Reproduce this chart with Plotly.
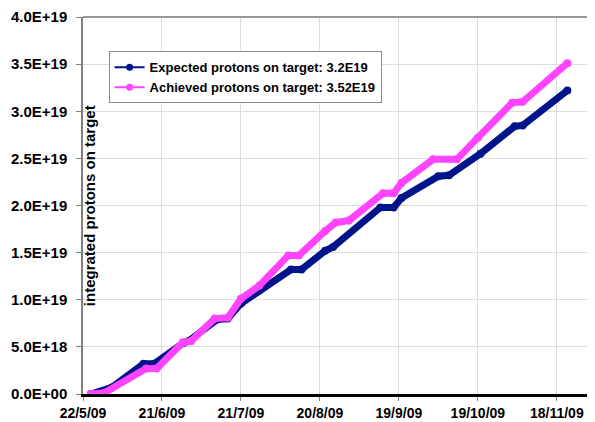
import plotly.graph_objects as go

# cumulative protons on target (units of 1E19), read at the kinks of each curve
expected_dates = ["2009-05-25", "2009-06-02", "2009-06-14", "2009-06-18", "2009-06-29",
                  "2009-07-01", "2009-07-12", "2009-07-16", "2009-07-21", "2009-07-28",
                  "2009-08-09", "2009-08-13", "2009-08-22", "2009-08-25", "2009-09-12",
                  "2009-09-17", "2009-09-20", "2009-10-04", "2009-10-08", "2009-10-20",
                  "2009-11-02", "2009-11-05", "2009-11-22"]
expected_pot = [0.0, 0.07, 0.32, 0.32, 0.54,
                0.56, 0.79, 0.80, 0.96, 1.10,
                1.32, 1.32, 1.52, 1.56, 1.98,
                1.98, 2.08, 2.31, 2.32, 2.55,
                2.84, 2.85, 3.22]

achieved_dates = ["2009-05-25", "2009-05-30", "2009-06-15", "2009-06-19", "2009-06-29",
                  "2009-07-02", "2009-07-11", "2009-07-16", "2009-07-21", "2009-07-28",
                  "2009-08-08", "2009-08-12", "2009-08-22", "2009-08-26", "2009-08-31",
                  "2009-09-13", "2009-09-17", "2009-09-20", "2009-10-02", "2009-10-11",
                  "2009-10-19", "2009-11-01", "2009-11-05", "2009-11-22"]
achieved_pot = [0.0, 0.01, 0.27, 0.27, 0.55,
                0.56, 0.80, 0.81, 1.01, 1.15,
                1.47, 1.47, 1.73, 1.82, 1.84,
                2.13, 2.13, 2.24, 2.49, 2.49,
                2.72, 3.09, 3.10, 3.51]

series_names = ["Expected protons on target: 3.2E19", "Achieved protons on target: 3.52E19"]
series_colors = ["#00148C", "#FF44FF"]

x_tick_dates = ["2009-05-22", "2009-06-21", "2009-07-21", "2009-08-20",
                "2009-09-19", "2009-10-19", "2009-11-18"]
x_tick_labels = ["22/5/09", "21/6/09", "21/7/09", "20/8/09", "19/9/09", "19/10/09", "18/11/09"]
y_tick_vals = [0, 0.5, 1.0, 1.5, 2.0, 2.5, 3.0, 3.5, 4.0]
y_tick_labels = ["0.0E+00", "5.0E+18", "1.0E+19", "1.5E+19", "2.0E+19",
                 "2.5E+19", "3.0E+19", "3.5E+19", "4.0E+19"]

FONT = "Liberation Sans, Arial"
xtick_font = dict(family=FONT, size=14, color="black", weight="bold")
ytick_font = dict(family=FONT, size=15, color="black", weight="bold")
title_font = dict(family=FONT, size=15, color="black", weight="bold")

fig = go.Figure()
for xs, vals, name, col in [(expected_dates, expected_pot, series_names[0], series_colors[0]),
                            (achieved_dates, achieved_pot, series_names[1], series_colors[1])]:
    fig.add_trace(go.Scatter(
        x=xs, y=[v * 1e19 for v in vals], mode="lines+markers", name=name,
        line=dict(color=col, width=7), marker=dict(color=col, size=8),
        showlegend=False
    ))
# thin legend entries like the excel legend keys
for name, col in zip(series_names, series_colors):
    fig.add_trace(go.Scatter(
        x=[None], y=[None], mode="lines+markers", name=name,
        line=dict(color=col, width=2), marker=dict(color=col, size=7)
    ))

# the page body keeps its default 8px margin, so the figure is 8px smaller
fig.update_layout(
    width=587, height=414,
    paper_bgcolor="white", plot_bgcolor="white",
    margin=dict(l=75, r=0, t=9, b=28, autoexpand=False),
    font=title_font,
    showlegend=True,
    legend=dict(x=0.05, y=0.84, xanchor="left", yanchor="middle",
                bgcolor="white", bordercolor="#8C8C8C", borderwidth=1,
                font=dict(family=FONT, size=13, color="black", weight="bold"),
                tracegroupgap=0, itemwidth=30),
    xaxis=dict(type="date", range=["2009-05-22", "2009-12-02 12:00"], automargin=False,
               tickvals=x_tick_dates, ticktext=x_tick_labels, tickfont=xtick_font,
               showgrid=True, gridcolor="#DDDDDD", gridwidth=1,
               showline=True, linecolor="black", linewidth=3,
               ticks="outside", ticklen=4, tickcolor="#808080", zeroline=False),
    yaxis=dict(range=[0, 4e19], automargin=False, ticklabeloverflow="allow",
               tickvals=[v * 1e19 for v in y_tick_vals], ticktext=y_tick_labels,
               tickfont=ytick_font, ticklabelstandoff=6,
               showgrid=True, gridcolor="#DDDDDD", gridwidth=1,
               showline=True, linecolor="#808080", linewidth=1.5,
               ticks="outside", ticklen=5, tickcolor="#808080", zeroline=False),
    shapes=[dict(type="line", xref="paper", yref="paper", x0=0, x1=1, y0=1, y1=1,
                 line=dict(color="#999999", width=2))],
    annotations=[dict(text="integrated protons on target", textangle=-90,
                      xref="paper", yref="paper", x=0.013, y=0.5,
                      xanchor="center", yanchor="middle", showarrow=False, font=title_font)]
)

fig.write_html("out.html")
